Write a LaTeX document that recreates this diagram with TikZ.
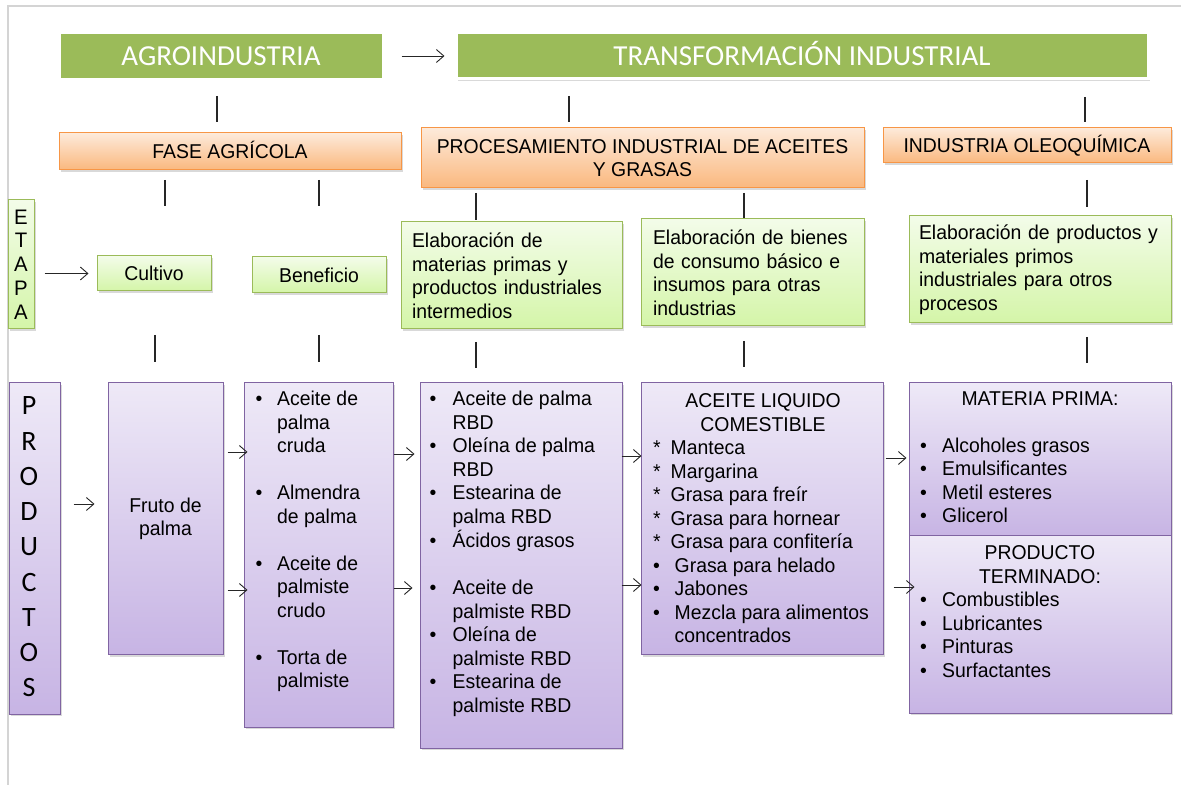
\documentclass[tikz,border=0pt]{standalone}
\usepackage{fontspec}
\setmainfont{Liberation Sans}[FakeStretch=0.97]
\newfontfamily\headfont{Carlito}
\usepackage{tikz}
\usetikzlibrary{calc,positioning,shadows,arrows.meta}

\definecolor{headgreen}{RGB}{155,187,89}
\definecolor{orangeline}{RGB}{247,150,70}
\definecolor{orangetop}{RGB}{253,234,218}
\definecolor{orangebot}{RGB}{250,184,126}
\definecolor{greenline}{RGB}{155,187,89}
\definecolor{greentop}{RGB}{243,252,233}
\definecolor{greenbot}{RGB}{212,245,168}
\definecolor{purpleline}{RGB}{128,100,162}
\definecolor{purpletop}{RGB}{238,233,247}
\definecolor{purplebot}{RGB}{199,180,228}
\definecolor{framegray}{RGB}{212,212,212}

\newcommand{\bodyfont}{\fontsize{20}{23.5}\selectfont}
\newcommand{\bigletters}{\headfont\fontsize{28}{35.25}\selectfont}

\begin{document}
\begin{tikzpicture}[x=1pt,y=1pt,font=\bodyfont,
    boxshadow/.style={drop shadow={shadow xshift=1.5pt,shadow yshift=-2pt,opacity=.3}},
    headbox/.style={draw=white,line width=3pt,fill=headgreen,text=white,
        font=\headfont\fontsize{29}{34}\selectfont,text height=19pt,text depth=0pt,
        inner sep=0pt,boxshadow},
    phasebox/.style={draw=orangeline,line width=1pt,top color=orangetop,
        bottom color=orangebot,align=center,inner sep=0pt,boxshadow},
    stagebox/.style={draw=greenline,line width=1pt,top color=greentop,
        bottom color=greenbot,boxshadow},
    prodbox/.style={draw=purpleline,line width=1pt,top color=purpletop,
        bottom color=purplebot,boxshadow},
    listtext/.style={inner sep=0pt,anchor=north west},
    headtext/.style={inner sep=0pt,anchor=north},
    tickline/.style={line width=1.1pt,black!85},
    arr/.style={line width=.9pt,black!85,-{Straight Barb[length=7.5pt,width=13pt]}}]

    \useasboundingbox (0,0) rectangle (1181,785);
    \draw[framegray,line width=1.4pt] (1181,779) -- (8,779) -- (8,0);

    % Top level
    \node[headbox,
    minimum width=324pt,
    minimum height=47pt] (agro) at (221,729) {AGROINDUSTRIA};

    \node[headbox,
    minimum width=692pt,
    minimum height=46pt] (trans) at (802,729) {TRANSFORMACIÓN INDUSTRIAL};

    % Phases
    \node[phasebox,
    minimum width=342pt,
    minimum height=37pt,
    text height=14.5pt,text depth=0pt] (fase) at (230,633.5) {FASE AGRÍCOLA};

    \node[phasebox,
    minimum width=443pt,
    minimum height=60pt] (proc) at (642.5,627)
        {PROCESAMIENTO INDUSTRIAL DE ACEITES\\Y GRASAS};

    \node[phasebox,
    minimum width=288pt,
    minimum height=35pt,
    text height=14.5pt,text depth=0pt] (oleo) at (1027,639.5) {INDUSTRIA OLEOQUÍMICA};

    % Stages
    \node[stagebox,
    minimum width=26pt,
    minimum height=129pt,
    inner sep=0pt,
    align=center,
    font=\fontsize{21}{23.75}\selectfont] (etapa) at (21,520.5) {E\\T\\A\\P\\A};

    \node[stagebox,
    minimum width=114pt,
    minimum height=35pt] (cultivo) at (154,511.5) {Cultivo};

    \node[stagebox,
    minimum width=134pt,
    minimum height=36pt] (benef) at (319,510) {Beneficio};

    \node[stagebox,
    text width=199pt,
    inner xsep=11pt,
    minimum height=107pt,
    align=left] (elab1) at (511.5,509.5)
        {Elaboración de\\materias primas y\\productos industriales\\intermedios};

    \node[stagebox,
    text width=199pt,
    inner xsep=12pt,
    minimum height=107pt,
    align=left] (elab2) at (752.5,512.5)
        {Elaboración de bienes\\de consumo básico e\\insumos para otras\\industrias};

    \node[stagebox,
    text width=242pt,
    inner xsep=10pt,
    minimum height=107pt,
    align=left] (elab3) at (1040,515.5)
        {Elaboración de productos y\\materiales primos\\industriales para otros\\procesos};

    % Products
    \node[prodbox,
    minimum width=51pt,
    minimum height=331pt] (productos) at (34.5,236.5) {};
    \node[align=center,font=\bigletters,inner sep=0pt] (productos-txt)
        at ($(productos.center)+(-5.5,1.5)$) {P\\R\\O\\D\\U\\C\\T\\O\\S};

    \node[prodbox,
    minimum width=115pt,
    minimum height=272pt,
    align=center] (fruto) at (165.5,266) {Fruto de\\palma};

    \node[prodbox,
    minimum width=149pt,
    minimum height=344pt] (benprod) at (318.5,230) {};
    \node[listtext] (benprod-list) at ($(benprod.north west)+(12,-6.5)$) {%
        \begin{tabular}{@{}p{21.5pt}@{}l@{}}
        \textbullet & Aceite de\\
         & palma\\
         & cruda\\
         & \\
        \textbullet & Almendra\\
         & de palma\\
         & \\
        \textbullet & Aceite de\\
         & palmiste\\
         & crudo\\
         & \\
        \textbullet & Torta de\\
         & palmiste
        \end{tabular}};

    \node[prodbox,
    minimum width=202pt,
    minimum height=365pt] (refin) at (521,219.5) {};
    \node[listtext] (refin-list) at ($(refin.north west)+(10,-6.5)$) {%
        \begin{tabular}{@{}p{23pt}@{}l@{}}
        \textbullet & Aceite de palma\\
         & RBD\\
        \textbullet & Oleína de palma\\
         & RBD\\
        \textbullet & Estearina de\\
         & palma RBD\\
        \textbullet & Ácidos grasos\\
         & \\
        \textbullet & Aceite de\\
         & palmiste RBD\\
        \textbullet & Oleína de\\
         & palmiste RBD\\
        \textbullet & Estearina de\\
         & palmiste RBD
        \end{tabular}};

    \node[prodbox,
    minimum width=242pt,
    minimum height=272pt] (liquido) at (762,266) {};
    \node[headtext] (liquido-head) at ($(liquido.north)+(1,-8.5)$) {%
        \begin{tabular}{@{}c@{}}ACEITE LIQUIDO\\COMESTIBLE\end{tabular}};
    \node[listtext] (liquido-list) at ($(liquido.north west)+(12.5,-55.5)$) {%
        \begin{tabular}{@{}p{17.5pt}@{}l@{}}
        {*} & Manteca\\
        {*} & Margarina\\
        {*} & Grasa para freír\\
        {*} & Grasa para hornear\\
        {*} & Grasa para confitería\\
        \textbullet & \hspace{4pt}Grasa para helado\\
        \textbullet & \hspace{4pt}Jabones\\
        \textbullet & \hspace{4pt}Mezcla para alimentos\\
         & \hspace{4pt}concentrados
        \end{tabular}};

    \node[prodbox,
    minimum width=262pt,
    minimum height=153pt] (materia) at (1040,325.5) {};
    \node[headtext] (materia-head) at ($(materia.north)+(0,-6)$) {%
        \begin{tabular}{@{}c@{}}MATERIA PRIMA:\end{tabular}};
    \node[listtext] (materia-list) at ($(materia.north west)+(11.5,-53)$) {%
        \begin{tabular}{@{}p{22pt}@{}l@{}}
        \textbullet & Alcoholes grasos\\
        \textbullet & Emulsificantes\\
        \textbullet & Metil esteres\\
        \textbullet & Glicerol
        \end{tabular}};

    \node[prodbox,
    minimum width=262pt,
    minimum height=177pt] (terminado) at (1040,160.5) {};
    \node[headtext] (terminado-head) at ($(terminado.north)+(0,-7.5)$) {%
        \begin{tabular}{@{}c@{}}PRODUCTO\\TERMINADO:\end{tabular}};
    \node[listtext] (terminado-list) at ($(terminado.north west)+(11.5,-54.5)$) {%
        \begin{tabular}{@{}p{22pt}@{}l@{}}
        \textbullet & Combustibles\\
        \textbullet & Lubricantes\\
        \textbullet & Pinturas\\
        \textbullet & Surfactantes
        \end{tabular}};

    % Ticks between levels
    \foreach \n/\x/\ya/\yb in {1/217/689/663, 2/569/689/663, 3/1085/688/663,
        4/165/605/579, 5/319/605/579, 6/476/592/565, 7/744/592/567, 8/1087/605/578,
        9/155/450/423, 10/319/450/423, 11/476/443/417, 12/744/444/418, 13/1087/448/422}{
        \coordinate (tick\n a) at (\x,\ya);
        \coordinate (tick\n b) at (\x,\yb);
        \draw[tickline] (tick\n a) -- (tick\n b);
    }

    % Arrows
    \draw[arr] ([xshift=17pt]agro.east) -- ([xshift=-10pt]trans.west);
    \draw[arr] ($(etapa.east |- cultivo.west)+(10,0)$) -- ($(cultivo.west)+(-8,0)$);
    \draw[arr] ($(productos.east |- fruto.west)+(13,15)$) -- ($(fruto.west)+(-13,15)$);
    \draw[arr] ($(fruto.east)+(4,67)$) -- ($(fruto.east -| benprod.west)+(4,67)$);
    \draw[arr] ($(fruto.east)+(4,-71)$) -- ($(fruto.east -| benprod.west)+(4,-71)$);
    \draw[arr] ($(benprod.east)+(0,101)$) -- ($(benprod.east -| refin.west)+(-5,101)$);
    \draw[arr] ($(benprod.east)+(0,-33)$) -- ($(benprod.east -| refin.west)+(-7,-33)$);
    \draw[arr] ($(refin.east |- liquido.west)+(-1,63)$) -- ($(liquido.west)+(1,63)$);
    \draw[arr] ($(refin.east |- liquido.west)+(-1,-66)$) -- ($(liquido.west)+(1,-66)$);
    \draw[arr] ($(liquido.east |- materia.west)+(2,1.5)$) -- ($(materia.west)+(-2,1.5)$);
    \draw[arr] ($(liquido.east |- terminado.west)+(10,37.5)$) -- ($(terminado.west)+(6,37.5)$);
\end{tikzpicture}
\end{document}
